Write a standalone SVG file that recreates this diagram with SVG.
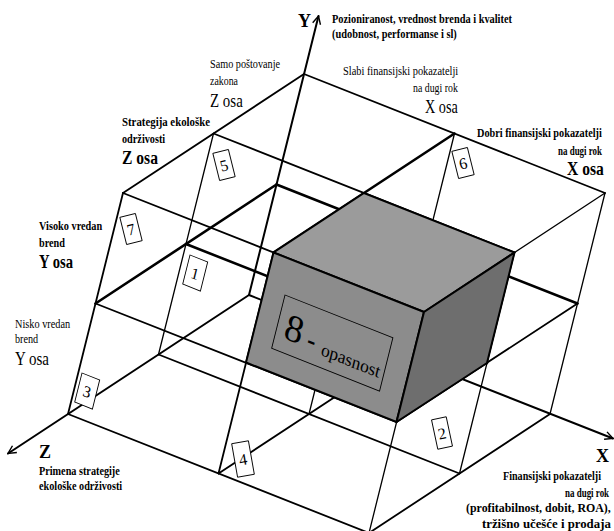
<svg xmlns="http://www.w3.org/2000/svg" width="614" height="531" viewBox="0 0 614 531">
<style>
.ln{stroke:#000;fill:none;stroke-linecap:round}
.t1{stroke-width:1.3}
.t2{stroke-width:1.8}
.t3{stroke-width:2.6}
.ax{stroke-width:2}
.face{stroke:#000;stroke-width:2;stroke-linejoin:round}
.tx{font-family:"Liberation Serif","Times New Roman",serif;fill:#000}
.b{font-weight:bold}
.s{font-size:13px}
.l{font-size:19px}
.nb{fill:#fff;stroke:#000;stroke-width:0.9}
.nt{font-family:"Liberation Serif","Times New Roman",serif;font-size:16px;fill:#000;text-anchor:middle}
</style>
<defs>
<marker id="arr" viewBox="0 0 10 10" refX="9" refY="5" markerWidth="10" markerHeight="10" markerUnits="userSpaceOnUse" orient="auto">
<path d="M1,1 L9,5 L1,9" fill="none" stroke="#000" stroke-width="1.4"/>
</marker>
</defs>
<g id="connectors">
<line class="ln t1" x1="158.5" y1="354.5" x2="213.5" y2="133.5"/>
<line class="ln t1" x1="399.5" y1="354.5" x2="454.5" y2="133.5"/>
<line class="ln t1" x1="309" y1="414" x2="364" y2="193"/>
<line class="ln t1" x1="459.5" y1="473.5" x2="514.5" y2="252.5"/>
<line class="ln t1" x1="369" y1="533" x2="424" y2="312"/>
<line class="ln t1" x1="550" y1="414" x2="605" y2="193"/>
<line class="ln t1" x1="605" y1="193" x2="424" y2="312"/>
<line class="ln t2" x1="95.5" y1="303.5" x2="396.5" y2="422"/>
<line class="ln t2" x1="399.5" y1="354.5" x2="218.5" y2="473.5"/>
<line class="ln t2" x1="158.5" y1="354.5" x2="459.5" y2="473.5"/>
<line class="ln t2" x1="577.5" y1="303.5" x2="396.5" y2="422"/>
<line class="ln t2" x1="304" y1="74" x2="605" y2="193"/>
<line class="ln t2" x1="304" y1="74" x2="123" y2="193"/>
<line class="ln t2" x1="123" y1="193" x2="424" y2="312"/>
<line class="ln t2" x1="68" y1="414" x2="123" y2="193"/>
<line class="ln t2" x1="68" y1="414" x2="369" y2="533"/>
<line class="ln t2" x1="550" y1="414" x2="369" y2="533"/>
<line class="ln t2" x1="218.5" y1="473.5" x2="273.5" y2="252.5"/>
<line class="ln t3" x1="276.5" y1="184.5" x2="95.5" y2="303.5"/>
<line class="ln t3" x1="186" y1="244" x2="487" y2="363"/>
<line class="ln t3" x1="454.5" y1="133.5" x2="273.5" y2="252.5"/>
<line class="ln t3" x1="276.5" y1="184.5" x2="577.5" y2="303.5"/>
<line class="ln t2" x1="213.5" y1="133.5" x2="514.5" y2="252.5"/>
<line class="ln ax" x1="249" y1="295" x2="318.5" y2="16" marker-end="url(#arr)"/>
<line class="ln ax" x1="249" y1="295" x2="8" y2="453.5" marker-end="url(#arr)"/>
<line class="ln ax" x1="249" y1="295" x2="613" y2="438.5" marker-end="url(#arr)"/>
</g>
<g id="cube8">
<polygon class="face" fill="#9b9b9b" points="364,193 273.5,252.5 424,312 514.5,252.5"/>
<polygon class="face" fill="#8c8c8c" points="273.5,252.5 424,312 396.5,422 246,362.5"/>
<polygon class="face" fill="#6e6e6e" points="424,312 514.5,252.5 487,363 396.5,422"/>
<g transform="matrix(0.930,0.368,-0.2425,0.970,285,295)">
<rect x="0" y="0" width="116" height="55" fill="none" stroke="#000" stroke-width="0.9"/>
<text class="tx" x="8" y="41" font-size="38">8</text>
<text class="tx b" x="33" y="41" font-size="26">-</text>
<text class="tx" x="49" y="43" font-size="18">opasnost</text>
</g>
</g>
<g id="box1" transform="matrix(0.930,0.368,-0.2425,0.970,190,255)">
<rect class="nb" x="0" y="0" width="19" height="30"/>
<text class="nt" x="9.5" y="21">1</text>
</g>
<g id="box3" transform="matrix(0.930,0.368,-0.2425,0.970,82,373)">
<rect class="nb" x="0" y="0" width="19" height="30"/>
<text class="nt" x="9.5" y="21">3</text>
</g>
<g id="box5" transform="translate(224,165) rotate(-14)">
<rect class="nb" x="-8" y="-14" width="16" height="28"/>
<text class="nt" x="0" y="6">5</text>
</g>
<g id="box7" transform="translate(131,229) rotate(-14)">
<rect class="nb" x="-8" y="-14" width="16" height="28"/>
<text class="nt" x="0" y="6">7</text>
</g>
<g id="box6" transform="translate(463,163) rotate(-14)">
<rect class="nb" x="-8" y="-14" width="16" height="28"/>
<text class="nt" x="0" y="6">6</text>
</g>
<g id="box4" transform="translate(243,459) rotate(-10)">
<rect class="nb" x="-8.5" y="-17" width="17" height="34"/>
<text class="nt" x="0" y="6">4</text>
</g>
<g id="box2" transform="translate(442,433) rotate(-12)">
<rect class="nb" x="-7.5" y="-15" width="15" height="30"/>
<text class="nt" x="0" y="6">2</text>
</g>
<g id="labels">
<text class="tx b" x="298" y="27" font-size="18">Y</text>
<text class="tx b s" transform="translate(332,23) scale(0.8,1)" textLength="225" lengthAdjust="spacingAndGlyphs">Pozioniranost, vrednost brenda i kvalitet</text>
<text class="tx b s" transform="translate(332,38) scale(0.8,1)" textLength="156" lengthAdjust="spacingAndGlyphs">(udobnost, performanse i sl)</text>
<text class="tx s" transform="translate(210,68) scale(0.8,1)" textLength="87.5" lengthAdjust="spacingAndGlyphs">Samo poštovanje</text>
<text class="tx s" transform="translate(210,85) scale(0.8,1)" textLength="35" lengthAdjust="spacingAndGlyphs">zakona</text>
<text class="tx l" transform="translate(210,107) scale(0.8,1)" textLength="41" lengthAdjust="spacingAndGlyphs">Z osa</text>
<text class="tx b s" transform="translate(122,126) scale(0.8,1)" textLength="110" lengthAdjust="spacingAndGlyphs">Strategija ekološke</text>
<text class="tx b s" transform="translate(122,143) scale(0.8,1)" textLength="54" lengthAdjust="spacingAndGlyphs">održivosti</text>
<text class="tx b l" transform="translate(122,164) scale(0.8,1)" textLength="45" lengthAdjust="spacingAndGlyphs">Z osa</text>
<text class="tx s" transform="translate(343,75) scale(0.8,1)" textLength="144" lengthAdjust="spacingAndGlyphs">Slabi finansijski pokazatelji</text>
<text class="tx s" transform="translate(413,92) scale(0.8,1)" textLength="56" lengthAdjust="spacingAndGlyphs">na dugi rok</text>
<text class="tx l" transform="translate(425,113) scale(0.8,1)" textLength="41" lengthAdjust="spacingAndGlyphs">X osa</text>
<text class="tx b s" transform="translate(477,137) scale(0.8,1)" textLength="156" lengthAdjust="spacingAndGlyphs">Dobri finansijski pokazatelji</text>
<text class="tx b s" transform="translate(558,155) scale(0.8,1)" textLength="55" lengthAdjust="spacingAndGlyphs">na dugi rok</text>
<text class="tx b l" transform="translate(567,175) scale(0.8,1)" textLength="46" lengthAdjust="spacingAndGlyphs">X osa</text>
<text class="tx b s" transform="translate(39,230) scale(0.8,1)" textLength="79" lengthAdjust="spacingAndGlyphs">Visoko vredan</text>
<text class="tx b s" transform="translate(39,247) scale(0.8,1)" textLength="32.5" lengthAdjust="spacingAndGlyphs">brend</text>
<text class="tx b l" transform="translate(39,268) scale(0.8,1)" textLength="42.5" lengthAdjust="spacingAndGlyphs">Y osa</text>
<text class="tx s" transform="translate(15,328) scale(0.8,1)" textLength="69" lengthAdjust="spacingAndGlyphs">Nisko vredan</text>
<text class="tx s" transform="translate(15,343) scale(0.8,1)" textLength="29" lengthAdjust="spacingAndGlyphs">brend</text>
<text class="tx l" transform="translate(15,365) scale(0.8,1)" textLength="42.5" lengthAdjust="spacingAndGlyphs">Y osa</text>
<text class="tx b" x="39" y="458" font-size="18">Z</text>
<text class="tx b s" transform="translate(39,475) scale(0.8,1)" textLength="101" lengthAdjust="spacingAndGlyphs">Primena strategije</text>
<text class="tx b s" transform="translate(39,490) scale(0.8,1)" textLength="104" lengthAdjust="spacingAndGlyphs">ekološke održivosti</text>
<text class="tx b" x="596" y="462" font-size="18">X</text>
<text class="tx b s" transform="translate(503,480) scale(0.8,1)" textLength="122.5" lengthAdjust="spacingAndGlyphs">Finansijski pokazatelji</text>
<text class="tx b s" transform="translate(565,497) scale(0.7,1)" textLength="63" lengthAdjust="spacingAndGlyphs">na dugi rok</text>
<text class="tx b s" transform="translate(466,512) scale(0.8,1)" textLength="181" lengthAdjust="spacingAndGlyphs">(profitabilnost, dobit, ROA),</text>
<text class="tx b s" transform="translate(482,528) scale(0.8,1)" textLength="161" lengthAdjust="spacingAndGlyphs">tržišno učešće i prodaja</text>
</g>
</svg>
